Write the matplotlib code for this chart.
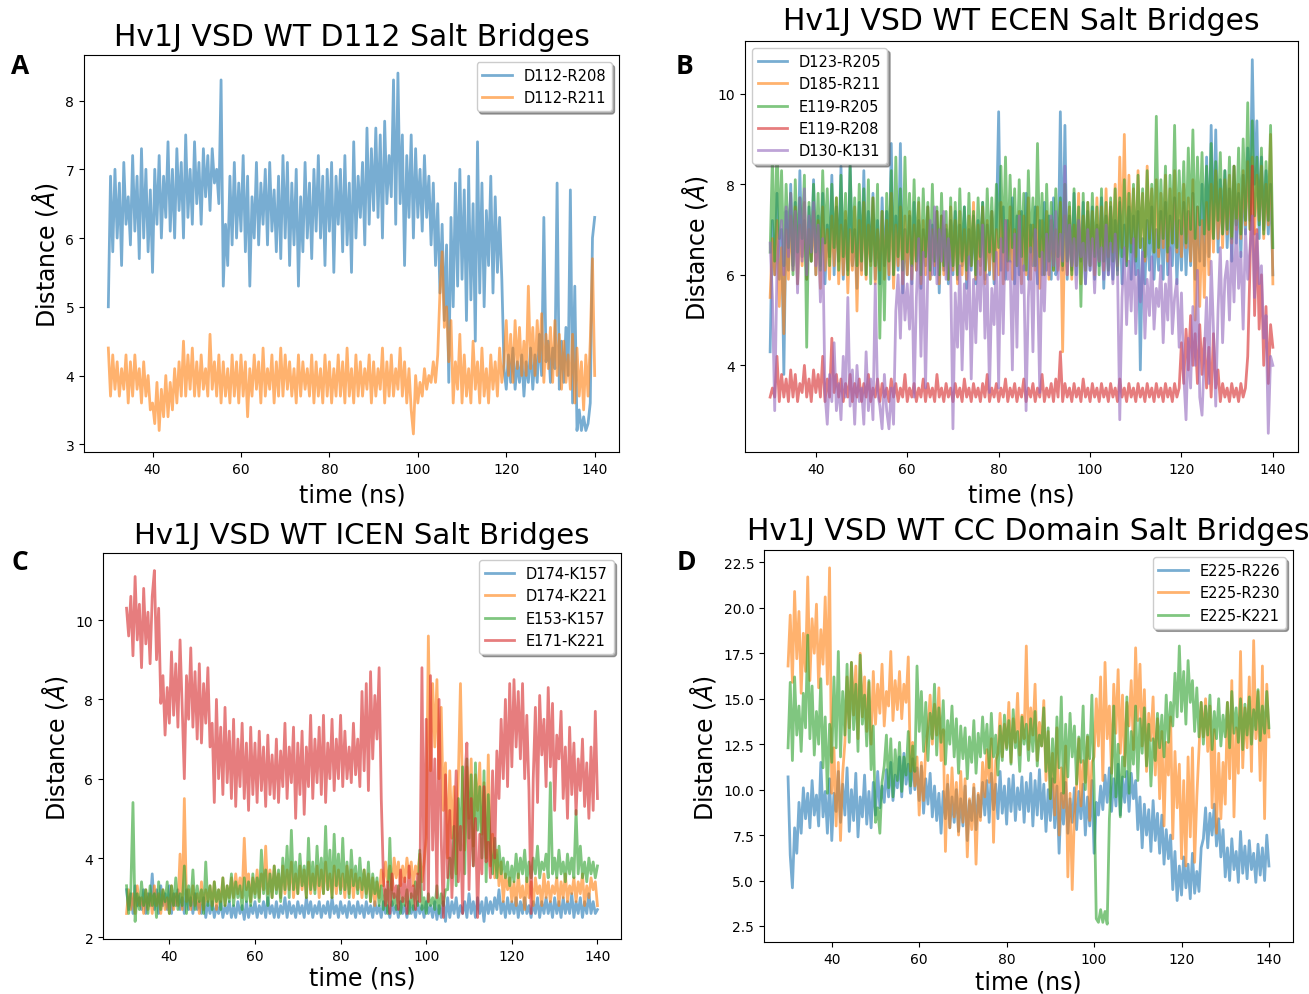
import numpy as np
import matplotlib
matplotlib.use("Agg")
import matplotlib.pyplot as plt

# values, one per 0.5 ns from 30 ns to 140 ns

# --- Panel A: D112 salt bridges ---
a_d112_r208 = [
    5.0, 6.9, 5.8, 7.0, 6.0, 6.8, 5.6, 7.1, 6.2, 6.6,
    5.9, 7.2, 6.1, 6.9, 5.7, 7.3, 6.0, 7.0, 5.8, 6.7,
    5.5, 7.0, 6.2, 7.2, 6.0, 6.9, 6.3, 7.4, 6.1, 7.0,
    6.0, 7.3, 6.4, 7.1, 6.0, 7.5, 6.3, 7.0, 6.2, 7.4,
    6.5, 7.1, 6.2, 7.3, 6.6, 7.2, 6.4, 7.3, 6.8, 7.0,
    6.5, 8.3, 5.3, 6.2, 5.6, 6.9, 5.9, 7.1, 6.0, 6.8,
    6.1, 7.2, 5.8, 6.9, 5.3, 6.6, 6.0, 7.1, 5.9, 6.8,
    6.2, 7.0, 5.9, 7.1, 6.1, 6.7, 5.8, 6.9, 5.7, 7.2,
    6.0, 7.1, 5.6, 6.8, 5.9, 7.0, 5.3, 6.6, 5.8, 7.1,
    6.0, 6.8, 5.7, 7.0, 6.1, 7.2, 6.0, 6.9, 5.6, 7.0,
    6.1, 7.1, 5.5, 6.9, 6.2, 7.0, 5.8, 7.2, 5.9, 6.8,
    5.5, 7.4, 6.0, 6.9, 6.3, 7.1, 5.9, 7.6, 6.2, 7.3,
    6.4, 7.6, 6.3, 7.5, 6.0, 7.7, 6.5, 7.2, 6.6, 8.3,
    6.2, 8.4, 6.5, 7.5, 5.6, 7.2, 6.3, 7.5, 6.0, 7.3,
    6.3, 7.0, 6.1, 7.2, 6.3, 6.9, 5.9, 6.8, 5.6, 6.5,
    5.2, 6.2, 4.8, 5.9, 3.9, 6.3, 5.0, 6.8, 5.3, 7.0,
    5.4, 6.7, 4.8, 6.9, 5.1, 6.5, 4.5, 7.4, 5.2, 6.8,
    5.0, 6.4, 5.6, 6.9, 5.2, 6.6, 5.5, 6.3, 5.4, 4.1,
    3.8, 4.3, 3.9, 4.4, 3.8, 4.2, 3.9, 4.3, 3.7, 4.2,
    3.9, 4.4, 3.8, 4.3, 3.9, 4.6, 4.0, 6.3, 4.2, 4.5,
    3.9, 4.4, 4.1, 6.8, 3.8, 4.5, 3.9, 4.7, 4.0, 6.7,
    3.6, 5.3, 3.2, 3.5, 3.2, 3.4, 3.2, 3.3, 3.6, 6.0,
    6.3,
]
a_d112_r211 = [
    4.4, 3.7, 4.3, 3.8, 4.2, 3.7, 4.1, 3.8, 4.3, 3.6,
    4.2, 3.7, 4.3, 3.8, 4.1, 3.6, 4.2, 3.7, 4.0, 3.5,
    3.6, 3.3, 3.9, 3.2, 3.8, 3.4, 4.0, 3.4, 3.9, 3.5,
    4.1, 3.6, 4.2, 3.7, 4.5, 3.7, 4.3, 3.8, 4.4, 3.7,
    4.2, 3.7, 4.3, 3.8, 4.1, 3.7, 4.6, 3.8, 4.2, 3.7,
    4.3, 3.6, 4.2, 3.7, 4.1, 3.6, 4.3, 3.7, 4.2, 3.6,
    4.3, 3.7, 4.2, 3.4, 4.1, 3.7, 4.3, 3.8, 4.2, 3.6,
    4.4, 3.7, 4.1, 3.8, 4.3, 3.6, 4.2, 3.7, 4.4, 3.7,
    4.3, 3.8, 4.2, 3.7, 4.1, 3.6, 4.3, 3.7, 4.2, 3.8,
    4.1, 3.7, 4.3, 3.6, 4.2, 3.7, 4.1, 3.6, 4.3, 3.7,
    4.2, 3.6, 4.1, 3.7, 4.3, 3.7, 4.2, 3.6, 4.4, 3.7,
    4.1, 3.6, 4.3, 3.7, 4.2, 3.7, 4.1, 3.8, 4.3, 3.6,
    4.2, 3.7, 4.1, 3.8, 4.4, 3.6, 4.2, 3.7, 4.3, 3.7,
    4.1, 3.8, 4.4, 3.7, 4.2, 3.6, 4.1, 3.5, 3.15, 4.0,
    3.6, 3.9, 3.7, 4.1, 3.8, 4.0, 3.9, 4.2, 3.9, 4.3,
    5.2, 5.8, 4.7, 5.0, 4.2, 4.8, 3.6, 4.2, 3.8, 4.6,
    3.6, 4.3, 3.7, 4.1, 3.6, 4.5, 3.8, 4.2, 3.6, 4.4,
    3.7, 4.1, 3.6, 4.3, 3.8, 4.2, 3.7, 4.4, 3.9, 4.2,
    4.8, 4.0, 4.6, 3.9, 4.8, 4.1, 4.7, 4.0, 4.5, 4.0,
    5.3, 4.1, 4.7, 4.0, 4.8, 4.2, 4.9, 3.9, 4.6, 4.1,
    4.7, 3.9, 4.8, 4.0, 4.6, 3.8, 4.5, 3.9, 4.3, 3.8,
    4.6, 3.6, 4.4, 3.7, 4.2, 3.5, 4.3, 3.7, 4.5, 5.7,
    4.0,
]

# --- Panel B: ECEN salt bridges ---
b_d123_r205 = [
    4.3, 7.2, 6.0, 7.8, 5.9, 7.0, 3.8, 7.4, 6.1, 8.0,
    6.2, 7.6, 5.8, 8.3, 6.4, 7.2, 5.9, 7.5, 6.3, 8.1,
    6.0, 7.3, 6.2, 7.8, 5.8, 7.1, 6.4, 8.2, 6.0, 7.5,
    6.3, 8.4, 5.9, 7.2, 6.1, 8.5, 6.2, 7.0, 5.7, 7.6,
    6.1, 8.3, 6.0, 7.4, 6.3, 7.8, 5.9, 7.2, 5.8, 7.7,
    6.2, 7.4, 5.9, 8.9, 6.0, 7.3, 6.1, 8.9, 5.6, 7.0,
    6.0, 7.3, 5.8, 7.6, 6.1, 7.2, 5.7, 7.0, 6.2, 7.5,
    5.9, 7.1, 6.0, 7.4, 5.6, 7.3, 6.1, 7.0, 5.8, 7.2,
    6.0, 7.4, 5.9, 7.1, 6.2, 7.5, 5.7, 7.0, 6.1, 7.3,
    5.8, 7.2, 6.2, 7.6, 5.9, 7.1, 6.0, 7.4, 5.8, 7.0,
    9.6, 6.1, 7.5, 5.9, 7.2, 6.3, 7.7, 5.8, 7.3, 6.0,
    7.4, 6.1, 7.8, 5.9, 7.1, 6.2, 7.5, 5.8, 7.2, 6.0,
    7.6, 6.1, 7.3, 5.9, 7.7, 6.0, 6.2, 9.6, 6.1, 9.3,
    5.9, 7.3, 6.1, 7.8, 6.0, 7.2, 6.3, 7.6, 5.8, 7.4,
    6.1, 7.5, 5.9, 7.1, 6.2, 7.7, 5.7, 7.3, 6.0, 7.5,
    5.9, 7.2, 6.1, 7.6, 5.8, 7.1, 6.2, 7.5, 5.9, 7.3,
    6.0, 7.4, 3.9, 6.8, 5.8, 7.2, 6.1, 7.5, 5.9, 7.0,
    6.1, 7.4, 5.9, 7.6, 6.0, 7.3, 6.2, 7.7, 5.8, 7.2,
    6.1, 7.6, 6.0, 7.4, 6.2, 7.8, 5.9, 7.5, 6.3, 8.0,
    6.2, 8.6, 6.4, 9.3, 6.8, 9.2, 6.5, 8.1, 6.9, 8.3,
    6.6, 7.9, 6.3, 8.4, 6.7, 7.8, 6.4, 8.2, 6.9, 8.8,
    7.2, 10.75, 8.0, 9.4, 6.8, 8.6, 7.0, 8.3, 6.9, 8.0,
    6.0,
]
b_d185_r211 = [
    5.5, 6.8, 6.0, 7.2, 5.3, 6.6, 4.7, 7.0, 5.9, 7.3,
    6.1, 7.5, 5.8, 7.1, 6.2, 7.6, 5.9, 7.0, 6.3, 7.4,
    6.0, 7.2, 5.7, 7.5, 6.1, 7.0, 5.9, 7.3, 6.2, 7.7,
    5.8, 7.1, 6.0, 7.4, 5.6, 7.0, 6.1, 7.5, 5.2, 7.2,
    6.0, 7.6, 5.9, 7.1, 6.2, 7.7, 5.8, 7.0, 6.1, 7.4,
    5.9, 7.2, 6.0, 7.8, 5.7, 7.1, 6.2, 7.5, 5.8, 7.3,
    6.0, 7.4, 5.9, 7.1, 6.1, 7.6, 5.8, 7.2, 6.0, 7.5,
    5.9, 7.0, 6.2, 7.4, 5.8, 7.3, 6.0, 7.1, 5.9, 7.5,
    6.1, 7.2, 5.8, 7.4, 6.0, 7.0, 5.9, 7.3, 6.2, 7.6,
    5.9, 7.1, 6.0, 7.5, 5.8, 7.2, 6.1, 7.4, 5.9, 7.0,
    6.0, 7.6, 5.8, 7.2, 6.1, 7.5, 5.9, 7.0, 6.2, 7.4,
    5.8, 7.3, 6.0, 7.7, 5.9, 7.1, 6.1, 7.5, 5.7, 7.2,
    6.0, 7.4, 5.9, 7.2, 6.1, 7.0, 6.1, 7.6, 4.3, 7.3,
    6.0, 7.5, 5.9, 7.1, 6.2, 7.8, 5.8, 7.3, 6.1, 7.6,
    6.2, 7.4, 6.0, 7.7, 6.3, 7.5, 6.1, 7.9, 6.4, 7.6,
    6.5, 8.0, 6.2, 8.6, 6.6, 9.1, 6.3, 8.2, 6.7, 7.9,
    6.4, 8.3, 6.6, 7.8, 6.3, 8.4, 6.8, 7.9, 6.5, 8.1,
    6.4, 7.8, 6.6, 8.2, 6.3, 7.9, 6.7, 8.3, 6.5, 7.8,
    6.4, 8.0, 6.6, 7.7, 6.3, 8.1, 5.0, 7.5, 5.3, 7.2,
    5.5, 7.6, 6.0, 8.0, 6.5, 8.3, 6.8, 7.9, 6.6, 8.1,
    6.9, 8.2, 6.7, 8.4, 7.0, 8.0, 6.8, 8.3, 7.1, 8.5,
    7.0, 8.6, 6.9, 8.2, 7.2, 8.4, 6.8, 8.0, 7.1, 9.1,
    5.8,
]
b_e119_r205 = [
    6.5, 8.6, 6.3, 9.0, 6.8, 8.3, 6.2, 8.0, 6.6, 7.8,
    6.0, 8.1, 6.5, 7.7, 6.8, 8.2, 4.4, 7.6, 6.3, 8.0,
    6.5, 7.8, 6.1, 8.3, 6.7, 7.9, 6.2, 8.0, 6.6, 7.7,
    6.1, 8.2, 6.4, 7.8, 6.0, 8.4, 6.5, 7.7, 6.2, 8.0,
    6.3, 7.9, 6.0, 8.1, 5.8, 7.7, 6.2, 8.0, 4.6, 7.4,
    5.0, 7.8, 6.3, 8.3, 6.0, 8.6, 6.4, 7.9, 6.1, 8.6,
    6.5, 7.8, 6.2, 8.1, 6.3, 7.7, 6.0, 7.9, 6.4, 7.6,
    6.1, 8.0, 6.3, 7.5, 6.0, 7.8, 6.2, 7.4, 5.9, 7.7,
    6.2, 7.6, 6.0, 7.9, 6.3, 7.5, 6.1, 7.8, 6.2, 7.4,
    6.0, 7.7, 6.4, 7.6, 6.1, 7.9, 6.5, 7.7, 6.3, 8.0,
    6.6, 8.4, 6.5, 8.6, 6.3, 8.2, 6.6, 7.9, 6.2, 8.1,
    6.4, 7.8, 6.1, 8.3, 6.5, 7.7, 6.2, 8.9, 6.4, 7.8,
    6.0, 8.0, 6.3, 7.6, 6.1, 7.9, 6.4, 7.7, 6.2, 8.0,
    6.3, 7.6, 6.0, 7.9, 6.2, 7.5, 5.3, 7.8, 6.1, 7.6,
    6.2, 7.8, 6.4, 7.5, 6.0, 7.9, 6.3, 7.6, 6.1, 7.7,
    6.3, 7.9, 6.0, 7.7, 6.4, 8.1, 6.2, 7.8, 6.5, 8.0,
    6.3, 8.2, 6.6, 7.9, 6.4, 8.3, 6.7, 8.0, 6.5, 9.5,
    6.6, 8.1, 6.8, 8.4, 6.5, 8.2, 6.7, 9.3, 6.6, 8.3,
    6.9, 8.5, 6.7, 8.8, 7.0, 9.2, 6.8, 8.6, 7.1, 8.7,
    6.9, 8.4, 7.0, 8.9, 6.8, 8.5, 7.2, 8.7, 6.9, 8.3,
    7.0, 8.6, 6.8, 8.4, 7.1, 8.8, 6.9, 9.0, 7.2, 9.8,
    7.0, 9.4, 7.3, 8.6, 7.1, 8.8, 6.9, 8.5, 7.2, 9.3,
    6.6,
]
b_e119_r208 = [
    3.3, 3.5, 3.3, 4.2, 3.2, 3.8, 3.3, 3.7, 3.2, 3.9,
    3.3, 3.8, 3.2, 3.6, 3.4, 4.0, 3.3, 3.7, 3.2, 3.9,
    3.4, 3.8, 3.3, 4.2, 3.2, 3.7, 3.3, 4.6, 3.4, 3.8,
    3.3, 3.7, 3.2, 3.6, 3.3, 3.8, 3.2, 3.6, 3.3, 3.7,
    3.2, 3.6, 3.3, 3.8, 3.2, 3.5, 3.3, 3.7, 3.2, 3.6,
    3.3, 3.5, 3.2, 3.7, 3.3, 3.6, 3.2, 3.5, 3.3, 3.8,
    3.2, 3.5, 3.3, 3.6, 3.2, 3.5, 3.3, 3.7, 3.2, 3.6,
    3.3, 3.5, 3.2, 3.8, 3.3, 3.5, 3.2, 3.6, 3.3, 3.5,
    3.2, 3.6, 3.3, 3.5, 3.2, 3.7, 3.3, 3.5, 3.2, 3.6,
    3.3, 3.5, 3.2, 3.6, 3.3, 3.8, 3.2, 3.5, 3.3, 3.6,
    3.2, 3.5, 3.3, 3.7, 3.2, 3.5, 3.3, 3.6, 3.2, 3.5,
    3.3, 3.7, 3.2, 3.5, 3.3, 3.6, 3.2, 3.5, 3.3, 3.8,
    3.2, 3.5, 3.3, 3.6, 3.2, 3.7, 3.3, 4.3, 3.2, 3.6,
    3.3, 3.5, 3.2, 3.6, 3.3, 3.5, 3.2, 3.7, 3.3, 3.5,
    3.2, 3.6, 3.3, 3.5, 3.2, 3.6, 3.3, 3.5, 3.2, 3.6,
    3.3, 3.5, 3.2, 3.7, 3.3, 3.5, 3.2, 3.6, 3.3, 3.5,
    3.2, 3.6, 3.3, 3.5, 3.2, 3.6, 3.3, 3.5, 3.2, 3.6,
    3.3, 3.5, 3.2, 3.6, 3.3, 3.5, 3.2, 3.6, 3.3, 3.5,
    4.5, 3.6, 4.8, 3.9, 5.1, 4.0, 4.7, 3.6, 4.9, 3.8,
    4.6, 3.5, 4.4, 3.3, 4.7, 3.5, 3.9, 3.2, 3.6, 3.3,
    3.5, 3.2, 3.6, 3.3, 3.5, 3.2, 3.6, 3.3, 3.5, 4.2,
    6.2, 8.4, 5.1, 7.0, 4.8, 6.0, 4.0, 5.3, 3.6, 4.9,
    4.4,
]
b_d130_k131 = [
    6.7, 5.5, 3.0, 6.2, 6.8, 7.2, 6.0, 7.5, 6.4, 7.8,
    6.1, 7.4, 5.6, 7.7, 6.3, 7.9, 6.0, 7.3, 6.5, 7.6,
    6.2, 7.1, 5.4, 6.8, 3.4, 2.7, 3.8, 3.2, 4.5, 3.0,
    3.6, 2.8, 4.2, 3.3, 5.5, 3.1, 3.9, 2.7, 4.0, 3.2,
    3.5, 2.7, 4.3, 3.0, 3.7, 2.8, 5.8, 3.4, 3.1, 2.6,
    3.8, 3.0, 2.6, 3.5, 2.7, 5.2, 6.0, 4.6, 6.3, 5.0,
    5.8, 4.8, 6.2, 3.3, 5.5, 6.8, 4.2, 6.5, 3.5, 6.1,
    7.2, 6.0, 7.5, 5.8, 7.0, 6.3, 7.4, 5.9, 6.8, 6.1,
    2.6, 5.6, 4.4, 6.2, 3.9, 5.8, 4.8, 6.4, 3.7, 5.9,
    4.5, 6.3, 5.2, 7.1, 4.6, 6.0, 3.4, 5.7, 4.9, 6.5,
    3.5, 6.8, 4.7, 7.2, 5.9, 6.3, 3.9, 6.9, 4.4, 7.3,
    5.6, 6.2, 3.0, 5.5, 6.6, 4.3, 7.0, 5.9, 3.4, 6.5,
    5.2, 6.9, 6.0, 7.3, 6.2, 7.4, 5.9, 6.9, 6.3, 8.4,
    6.0, 7.1, 6.2, 6.8, 5.7, 7.2, 6.4, 6.7, 5.8, 7.0,
    6.1, 6.8, 5.6, 7.0, 6.3, 6.6, 5.9, 7.1, 6.0, 6.7,
    5.8, 6.9, 6.2, 2.8, 5.5, 6.6, 4.9, 6.3, 5.2, 6.8,
    4.7, 6.1, 5.4, 6.5, 4.6, 5.9, 5.1, 6.4, 4.8, 5.7,
    5.3, 6.2, 4.5, 5.8, 5.0, 6.6, 4.7, 5.5, 5.9, 4.4,
    5.6, 3.8, 2.8, 4.6, 3.5, 5.3, 4.0, 6.1, 3.3, 2.9,
    4.2, 5.5, 3.6, 6.3, 4.8, 3.1, 5.2, 6.6, 4.5, 5.9,
    6.3, 5.0, 6.8, 5.4, 7.2, 5.7, 6.5, 4.8, 7.0, 5.9,
    6.6, 7.3, 5.5, 6.9, 5.8, 6.2, 4.6, 5.1, 2.5, 4.2,
    4.0,
]

# --- Panel C: ICEN salt bridges ---
c_d174_k157 = [
    3.2, 2.7, 3.1, 2.6, 3.3, 2.8, 3.0, 2.7, 3.2, 2.6,
    3.1, 2.8, 3.6, 2.7, 3.2, 2.6, 3.3, 2.8, 3.1, 2.7,
    3.3, 2.6, 3.1, 2.8, 3.2, 2.7, 3.0, 2.6, 3.2, 2.7,
    3.0, 2.6, 3.1, 2.7, 2.9, 2.6, 3.0, 2.5, 2.9, 2.6,
    2.9, 2.5, 2.8, 2.6, 2.9, 2.5, 2.8, 2.6, 2.9, 2.5,
    2.8, 2.5, 2.9, 2.6, 2.8, 2.45, 2.9, 2.5, 2.8, 2.6,
    2.9, 2.5, 2.8, 2.6, 2.9, 2.5, 3.0, 2.6, 2.8, 2.5,
    2.9, 2.5, 2.8, 2.6, 3.0, 2.5, 2.9, 2.6, 2.8, 2.5,
    2.9, 2.6, 2.8, 2.5, 3.0, 2.6, 2.9, 2.5, 2.8, 2.6,
    2.9, 2.5, 2.8, 2.6, 2.9, 2.5, 3.0, 2.6, 2.8, 2.5,
    2.9, 2.6, 2.8, 2.5, 2.9, 2.6, 2.8, 2.5, 2.9, 2.6,
    2.8, 2.5, 2.9, 2.6, 2.8, 2.5, 2.9, 2.6, 2.8, 2.5,
    2.9, 2.6, 2.8, 2.5, 2.9, 2.6, 2.8, 2.5, 2.9, 2.6,
    2.8, 2.5, 2.9, 2.6, 2.8, 2.5, 2.9, 2.6, 2.8, 2.5,
    2.9, 2.6, 2.8, 2.5, 2.9, 2.45, 2.8, 2.5, 2.9, 2.4,
    3.0, 2.5, 2.9, 2.6, 3.0, 2.5, 2.8, 2.6, 2.9, 2.5,
    3.1, 2.6, 2.9, 2.5, 3.0, 2.6, 2.9, 2.4, 3.0, 2.6,
    2.9, 2.6, 3.0, 2.7, 3.2, 2.6, 2.9, 2.5, 3.0, 2.6,
    2.9, 2.6, 3.0, 2.5, 2.9, 2.6, 3.0, 2.6, 2.8, 2.5,
    2.9, 2.6, 3.0, 2.5, 2.9, 2.6, 3.0, 2.6, 2.9, 2.5,
    3.0, 2.6, 2.9, 2.5, 3.0, 2.6, 2.9, 2.6, 3.1, 2.5,
    2.9, 2.6, 3.0, 2.5, 2.9, 2.6, 3.1, 2.6, 2.9, 2.6,
    2.7,
]
c_d174_k221 = [
    2.6, 3.2, 2.7, 3.1, 2.6, 3.3, 2.8, 3.0, 2.6, 3.2,
    2.7, 3.1, 2.6, 3.3, 2.8, 3.1, 2.6, 3.2, 2.7, 3.0,
    2.6, 3.3, 2.7, 3.1, 2.8, 4.1, 2.7, 5.5, 2.9, 3.2,
    2.7, 3.3, 2.8, 3.1, 2.6, 3.4, 2.7, 3.2, 2.9, 3.3,
    2.8, 3.4, 2.7, 3.2, 2.9, 3.5, 2.8, 3.3, 3.0, 3.5,
    3.0, 3.6, 3.1, 3.5, 3.0, 4.5, 3.2, 3.6, 2.9, 3.5,
    3.1, 3.7, 3.0, 3.6, 3.2, 4.3, 3.1, 3.7, 3.0, 3.8,
    3.2, 3.6, 3.0, 3.8, 3.1, 3.7, 3.2, 3.9, 3.0, 3.6,
    3.1, 3.8, 3.2, 3.7, 3.0, 3.9, 3.1, 3.6, 3.2, 3.8,
    3.0, 3.7, 3.1, 3.9, 3.2, 3.6, 3.0, 3.8, 3.1, 3.7,
    3.2, 3.6, 3.0, 3.8, 3.1, 3.7, 3.0, 3.6, 3.2, 3.5,
    3.0, 3.7, 3.1, 3.6, 2.9, 3.5, 2.8, 3.4, 3.0, 3.7,
    3.3, 3.9, 3.4, 3.8, 3.2, 4.0, 3.5, 3.9, 3.3, 3.8,
    3.4, 4.0, 3.5, 3.9, 3.3, 3.8, 3.6, 4.1, 3.4, 3.9,
    4.5, 9.6, 6.2, 8.4, 6.8, 8.5, 6.0, 7.8, 5.2, 6.4,
    4.0, 6.2, 4.5, 5.8, 3.6, 6.0, 8.4, 5.5, 4.2, 6.3,
    5.0, 6.5, 4.3, 6.1, 5.2, 6.4, 4.6, 5.9, 4.0, 6.6,
    3.8, 4.6, 3.5, 4.2, 3.3, 3.9, 2.9, 3.6, 3.2, 3.5,
    2.9, 3.4, 2.8, 3.6, 3.0, 3.3, 2.7, 3.5, 3.0, 3.4,
    2.8, 3.5, 3.1, 3.3, 2.8, 3.6, 3.0, 3.4, 2.9, 3.3,
    3.1, 3.5, 2.8, 3.4, 3.0, 3.6, 2.9, 3.3, 3.1, 3.5,
    2.9, 3.4, 3.1, 3.6, 2.8, 3.3, 3.0, 3.5, 3.2, 3.4,
    2.8,
]
c_e153_k157 = [
    3.3, 2.6, 3.2, 5.4, 2.4, 3.1, 2.7, 3.4, 2.8, 3.2,
    2.6, 3.3, 2.8, 3.1, 2.5, 3.4, 2.7, 3.2, 2.9, 3.4,
    2.6, 3.3, 2.8, 3.5, 2.7, 3.1, 2.8, 3.8, 2.6, 3.3,
    2.8, 3.7, 2.7, 3.3, 2.9, 3.2, 2.6, 3.9, 2.8, 3.3,
    2.7, 3.4, 2.9, 3.2, 2.7, 3.5, 2.8, 3.3, 2.9, 3.6,
    2.8, 3.4, 3.0, 3.3, 2.7, 3.5, 2.9, 3.4, 2.8, 3.6,
    3.0, 3.5, 2.9, 4.2, 3.1, 3.7, 2.8, 3.6, 3.0, 3.8,
    3.1, 3.7, 2.9, 4.0, 3.2, 4.3, 3.0, 4.7, 3.2, 3.9,
    3.1, 4.1, 3.3, 3.8, 3.0, 4.5, 3.2, 3.9, 3.1, 4.3,
    3.3, 4.0, 3.1, 4.8, 3.2, 4.2, 3.0, 4.6, 3.3, 4.1,
    3.1, 4.5, 3.2, 3.9, 3.0, 4.2, 3.3, 3.8, 3.1, 4.0,
    3.2, 3.7, 3.0, 3.9, 2.9, 3.6, 3.1, 3.5, 2.8, 3.3,
    2.7, 3.2, 2.6, 4.5, 2.8, 3.1, 2.7, 3.3, 2.6, 3.0,
    2.8, 3.2, 2.6, 3.1, 2.7, 3.4, 2.8, 4.2, 2.7, 3.0,
    2.6, 3.1, 2.8, 3.0, 2.7, 3.3, 2.6, 3.1, 2.8, 3.2,
    3.2, 4.0, 3.5, 4.8, 3.3, 5.5, 4.2, 6.3, 3.6, 6.5,
    4.5, 6.1, 3.8, 6.4, 4.7, 5.8, 4.0, 6.2, 3.4, 5.6,
    4.2, 3.6, 4.5, 3.5, 4.3, 3.6, 4.0, 3.5, 3.9, 3.3,
    3.8, 3.4, 4.1, 3.5, 4.0, 3.6, 4.2, 3.4, 3.9, 3.5,
    4.0, 3.6, 4.3, 3.5, 3.9, 3.7, 4.1, 3.5, 5.9, 3.6,
    4.0, 3.5, 4.2, 3.6, 3.9, 3.4, 4.1, 3.6, 4.0, 3.5,
    5.2, 3.6, 4.3, 3.5, 3.9, 3.4, 4.0, 3.6, 3.9, 3.5,
    3.8,
]
c_e171_k221 = [
    10.3, 9.6, 10.6, 9.1, 11.1, 9.5, 10.4, 8.8, 10.8, 9.4,
    10.2, 8.9, 10.6, 11.25, 9.0, 10.3, 7.9, 8.6, 7.1, 8.3,
    7.4, 9.2, 7.6, 8.9, 7.3, 9.5, 7.8, 6.0, 8.6, 7.5,
    9.3, 7.3, 8.7, 7.0, 8.9, 6.9, 8.4, 7.4, 8.8, 6.8,
    7.4, 5.4, 8.0, 6.0, 7.3, 5.6, 7.8, 5.9, 7.2, 5.5,
    7.5, 5.3, 7.0, 5.8, 7.4, 5.5, 6.9, 5.2, 7.3, 5.6,
    6.9, 5.4, 7.2, 5.7, 6.8, 5.3, 7.1, 5.6, 6.6, 5.5,
    7.0, 5.4, 6.7, 5.8, 7.4, 5.5, 6.8, 5.9, 7.3, 5.0,
    6.9, 5.6, 7.2, 5.1, 6.8, 5.8, 7.6, 5.5, 7.0, 5.9,
    7.3, 5.6, 7.6, 5.4, 6.9, 6.0, 7.5, 5.7, 7.0, 6.0,
    7.6, 5.8, 7.2, 6.0, 6.8, 5.9, 7.4, 6.1, 7.0, 5.8,
    8.2, 6.2, 8.4, 5.7, 8.7, 6.5, 8.1, 7.0, 8.8, 5.5,
    3.5, 2.8, 3.4, 2.6, 3.6, 3.0, 3.3, 2.7, 3.7, 2.9,
    3.5, 2.6, 3.8, 3.0, 3.3, 2.7, 3.6, 2.9, 8.8, 3.2,
    7.5, 2.9, 8.6, 4.2, 6.5, 3.0, 8.0, 4.5, 2.5, 6.1,
    3.5, 5.2, 3.0, 4.5, 6.2, 3.4, 4.8, 2.6, 5.9, 6.9,
    3.2, 5.5, 3.8, 5.0, 2.5, 4.6, 3.6, 5.8, 3.9, 4.4,
    3.5, 6.2, 4.0, 6.7, 5.5, 7.5, 6.0, 8.0, 5.8, 8.4,
    6.3, 8.5, 6.8, 8.2, 6.5, 8.4, 6.0, 7.6, 5.7, 2.6,
    6.0, 7.8, 5.4, 8.1, 6.6, 7.5, 5.8, 8.3, 6.3, 7.9,
    5.2, 7.1, 6.5, 7.7, 5.5, 6.8, 5.0, 7.3, 5.6, 6.9,
    5.1, 6.5, 5.7, 7.0, 5.3, 6.4, 5.0, 6.8, 5.2, 7.7,
    5.5,
]

# --- Panel D: CC domain salt bridges ---
d_e225_r226 = [
    10.7, 6.4, 4.6, 7.9, 6.5, 9.3, 7.6, 10.1, 8.4, 9.8,
    7.9, 10.5, 8.6, 9.7, 8.0, 11.5, 8.5, 9.9, 7.6, 10.6,
    7.2, 9.8, 8.8, 11.0, 8.2, 10.3, 8.6, 11.2, 7.7, 10.0,
    8.3, 10.9, 7.4, 9.6, 8.5, 10.8, 8.1, 9.9, 7.9, 10.4,
    8.6, 11.0, 9.0, 10.2, 9.3, 11.1, 9.6, 11.5, 9.4, 10.8,
    10.1, 11.8, 9.6, 12.0, 10.3, 11.4, 9.8, 11.7, 10.0, 11.2,
    9.4, 11.3, 8.7, 10.6, 9.2, 10.9, 8.5, 10.2, 8.3, 9.8,
    7.6, 9.9, 8.4, 10.3, 7.9, 9.6, 8.2, 10.0, 7.7, 9.5,
    8.0, 10.2, 7.2, 9.4, 8.3, 10.1, 7.8, 9.7, 8.5, 10.4,
    8.6, 10.5, 8.2, 10.9, 8.9, 10.3, 8.4, 11.0, 8.7, 10.2,
    8.1, 10.6, 8.8, 10.8, 8.3, 10.1, 8.9, 10.7, 8.2, 10.4,
    8.8, 10.9, 8.0, 10.5, 8.6, 11.1, 8.4, 10.3, 7.7, 10.0,
    8.3, 10.6, 7.9, 10.2, 6.5, 9.8, 8.1, 10.4, 7.6, 9.5,
    8.2, 10.1, 7.8, 9.9, 8.4, 10.3, 7.5, 9.6, 8.0, 10.5,
    6.5, 9.3, 8.6, 10.2, 8.9, 10.8, 9.3, 11.2, 8.8, 10.6,
    9.1, 11.4, 8.6, 10.7, 9.3, 11.0, 8.8, 10.9, 9.5, 10.5,
    7.8, 9.6, 6.8, 9.2, 7.5, 8.9, 6.6, 9.4, 7.2, 8.7,
    6.5, 8.6, 5.9, 7.8, 6.2, 7.5, 4.5, 6.6, 3.9, 5.8,
    4.2, 6.3, 4.6, 5.9, 4.0, 6.5, 4.3, 5.5, 4.4, 6.8,
    7.3, 9.0, 6.8, 8.7, 7.5, 9.2, 6.9, 8.4, 6.3, 7.8,
    5.2, 6.8, 5.0, 7.3, 5.6, 6.6, 4.9, 7.7, 5.4, 6.9,
    5.1, 7.2, 5.6, 6.5, 4.9, 7.0, 5.3, 6.8, 5.0, 7.5,
    5.8,
]
d_e225_r230 = [
    16.8, 19.6, 15.9, 20.9, 17.2, 19.8, 15.3, 18.6, 16.5, 21.7,
    16.0, 19.4, 17.5, 20.2, 15.6, 18.8, 16.9, 20.6, 15.8, 22.2,
    9.8, 12.3, 8.0, 11.5, 7.2, 10.9, 12.6, 16.2, 13.4, 17.0,
    14.1, 16.8, 12.8, 17.5, 14.0, 16.2, 13.2, 15.9, 12.5, 16.5,
    13.6, 15.8, 14.2, 16.9, 13.5, 15.4, 14.6, 17.6, 13.8, 16.0,
    14.4, 16.5, 13.9, 15.8, 14.8, 17.3, 11.0, 12.6, 10.2, 11.8,
    8.6, 11.5, 9.4, 12.3, 13.4, 15.2, 12.5, 14.7, 13.0, 15.6,
    11.6, 13.3, 6.6, 10.8, 7.9, 11.2, 8.5, 10.4, 7.5, 11.0,
    8.2, 10.6, 6.3, 9.5, 7.8, 10.3, 5.9, 9.8, 8.3, 11.5,
    9.6, 12.2, 10.4, 12.8, 7.1, 11.6, 12.0, 14.2, 11.8, 13.6,
    12.3, 14.8, 11.5, 13.9, 12.6, 15.3, 11.9, 14.1, 12.8, 17.9,
    12.2, 14.5, 13.0, 15.8, 11.6, 13.7, 12.4, 14.9, 10.5, 13.2,
    9.5, 12.0, 8.6, 13.4, 7.5, 11.2, 9.0, 12.4, 5.2, 9.8,
    4.5, 8.6, 10.2, 12.8, 9.1, 11.6, 10.4, 12.9, 8.3, 11.5,
    11.8, 15.0, 12.4, 16.2, 10.5, 17.0, 12.8, 14.6, 10.9, 15.8,
    13.1, 16.6, 12.0, 15.2, 11.3, 14.8, 13.5, 16.0, 12.2, 17.8,
    13.8, 16.9, 12.4, 15.5, 11.0, 14.2, 12.7, 15.1, 10.8, 13.9,
    9.5, 13.2, 8.0, 12.6, 10.8, 14.0, 7.3, 12.1, 9.0, 11.4,
    6.2, 10.5, 5.8, 11.8, 7.4, 12.3, 6.0, 9.6, 12.2, 14.8,
    12.9, 15.0, 12.1, 14.6, 9.0, 13.3, 7.6, 12.0, 8.4, 11.5,
    9.2, 14.8, 10.6, 16.0, 8.5, 13.4, 10.9, 17.6, 11.2, 14.5,
    12.3, 16.2, 11.0, 18.2, 12.8, 15.4, 10.5, 16.8, 8.4, 15.8,
    12.9,
]
d_e225_k221 = [
    12.3, 15.9, 11.6, 16.2, 13.0, 14.6, 12.1, 15.3, 13.4, 18.5,
    12.8, 15.7, 11.9, 14.3, 12.5, 16.1, 11.2, 14.0, 9.8, 13.6,
    11.5, 16.2, 12.3, 17.6, 11.8, 15.4, 13.0, 16.9, 12.6, 17.0,
    13.3, 15.8, 12.1, 17.4, 13.6, 15.2, 12.4, 16.0, 11.1, 13.5,
    8.2, 9.0, 7.6, 10.4, 11.3, 13.0, 10.1, 12.8, 9.6, 12.2,
    10.5, 12.6, 9.9, 11.8, 10.8, 13.2, 10.2, 12.4, 11.0, 16.8,
    13.2, 15.4, 12.1, 14.8, 11.6, 14.2, 12.8, 15.8, 11.9, 14.5,
    12.6, 14.9, 11.4, 13.8, 12.5, 14.6, 11.8, 13.9, 10.9, 13.5,
    11.7, 13.4, 10.6, 12.9, 11.5, 13.8, 10.9, 13.1, 11.8, 14.0,
    12.0, 13.6, 11.2, 14.2, 11.8, 13.0, 10.8, 13.5, 11.6, 14.1,
    12.2, 13.8, 11.4, 14.4, 12.3, 13.2, 11.0, 14.0, 12.5, 13.6,
    11.6, 13.9, 12.1, 14.3, 11.3, 13.0, 12.4, 14.5, 11.0, 13.4,
    9.5, 12.8, 10.4, 14.0, 11.2, 15.1, 9.8, 13.6, 10.7, 14.2,
    11.8, 13.5, 10.3, 12.9, 11.5, 14.6, 10.0, 13.0, 11.7, 15.2,
    10.2, 2.9, 2.7, 3.4, 2.7, 3.3, 2.6, 8.4, 10.8, 14.6,
    9.6, 12.5, 8.5, 11.8, 10.7, 15.1, 9.8, 13.2, 11.4, 14.6,
    10.5, 13.9, 12.0, 14.5, 11.3, 13.6, 10.2, 12.8, 11.6, 14.2,
    12.3, 14.1, 11.8, 15.2, 12.6, 14.8, 13.5, 16.4, 14.0, 17.9,
    14.3, 16.5, 13.6, 17.1, 14.8, 16.0, 13.2, 15.6, 12.9, 14.8,
    12.5, 14.6, 13.0, 15.2, 12.2, 14.3, 12.8, 15.0, 12.4, 14.1,
    12.9, 14.8, 12.3, 15.4, 13.1, 14.5, 12.6, 15.0, 12.2, 14.7,
    13.0, 15.1, 12.5, 14.4, 13.3, 15.5, 12.7, 14.6, 13.1, 15.4,
    13.4,
]

a_labels = ['D112-R208', 'D112-R211']
b_labels = ['D123-R205', 'D185-R211', 'E119-R205', 'E119-R208', 'D130-K131']
c_labels = ['D174-K157', 'D174-K221', 'E153-K157', 'E171-K221']
d_labels = ['E225-R226', 'E225-R230', 'E225-K221']

titles = ['Hv1J VSD WT D112 Salt Bridges',
          'Hv1J VSD WT ECEN Salt Bridges',
          'Hv1J VSD WT ICEN Salt Bridges',
          'Hv1J VSD WT CC Domain Salt Bridges']
title_sizes = [21.5, 21.5, 21, 21.5]

W, H = 1309, 995


def px_axes(fig, left, top, right, bottom):
    # axes box given in pixels of the 1309x995 canvas
    return fig.add_axes([left / W, 1 - bottom / H, (right - left) / W, (bottom - top) / H])


def draw_panel(ax, series, labels, legend_loc, yticks=None):
    for vals, lab in zip(series, labels):
        t = np.linspace(30, 140, len(vals))
        ax.plot(t, vals, alpha=0.6, lw=2.0, label=lab)
    ax.set_xticks([40, 60, 80, 100, 120, 140])
    if yticks is not None:
        ax.set_yticks(yticks)
    ax.tick_params(labelsize=10)
    leg = ax.legend(loc=legend_loc, shadow=True, fontsize=10.5)
    for line in leg.get_lines():
        line.set_linewidth(2.0)


fig = plt.figure(figsize=(W / 100, H / 100), dpi=100)

axA = px_axes(fig, 84, 56, 619, 453)
draw_panel(axA, [a_d112_r208, a_d112_r211], a_labels, 'upper right', [3, 4, 5, 6, 7, 8])

axB = px_axes(fig, 745, 42, 1298, 453)
draw_panel(axB, [b_d123_r205, b_d185_r211, b_e119_r205, b_e119_r208, b_d130_k131],
           b_labels, 'upper left', [4, 6, 8, 10])

axC = px_axes(fig, 103, 554, 621, 940)
draw_panel(axC, [c_d174_k157, c_d174_k221, c_e153_k157, c_e171_k221],
           c_labels, 'upper right', [2, 4, 6, 8, 10])

axD = px_axes(fig, 764, 551, 1293, 943)
draw_panel(axD, [d_e225_r226, d_e225_r230, d_e225_k221], d_labels, 'upper right',
           [2.5, 5.0, 7.5, 10.0, 12.5, 15.0, 17.5, 20.0, 22.5])

# titles, axis labels and panel letters placed in canvas pixels
title_pos = [(352, 38), (1021, 22), (362, 536), (1028, 531)]
xlab_pos = [(352, 495), (1021, 495), (362, 979), (1028, 983)]
ylab_pos = [(45, 255), (695, 248), (55, 748), (703, 748)]
letter_pos = [('A', 20, 66), ('B', 685, 66), ('C', 20, 562), ('D', 686, 562)]

for (tx, ty), s, fs in zip(title_pos, titles, title_sizes):
    fig.text(tx / W, 1 - ty / H, s, ha='center', va='center', fontsize=fs)
for (tx, ty) in xlab_pos:
    fig.text(tx / W, 1 - ty / H, 'time (ns)', ha='center', va='center', fontsize=17)
for (tx, ty) in ylab_pos:
    fig.text(tx / W, 1 - ty / H, r'Distance ($\AA$)', ha='center', va='center',
             fontsize=17, rotation=90)
for s, tx, ty in letter_pos:
    fig.text(tx / W, 1 - ty / H, s, ha='center', va='center', fontsize=19,
             fontweight='bold', family=['Open Sans', 'DejaVu Sans'])

fig.savefig('out.png', dpi=100)
